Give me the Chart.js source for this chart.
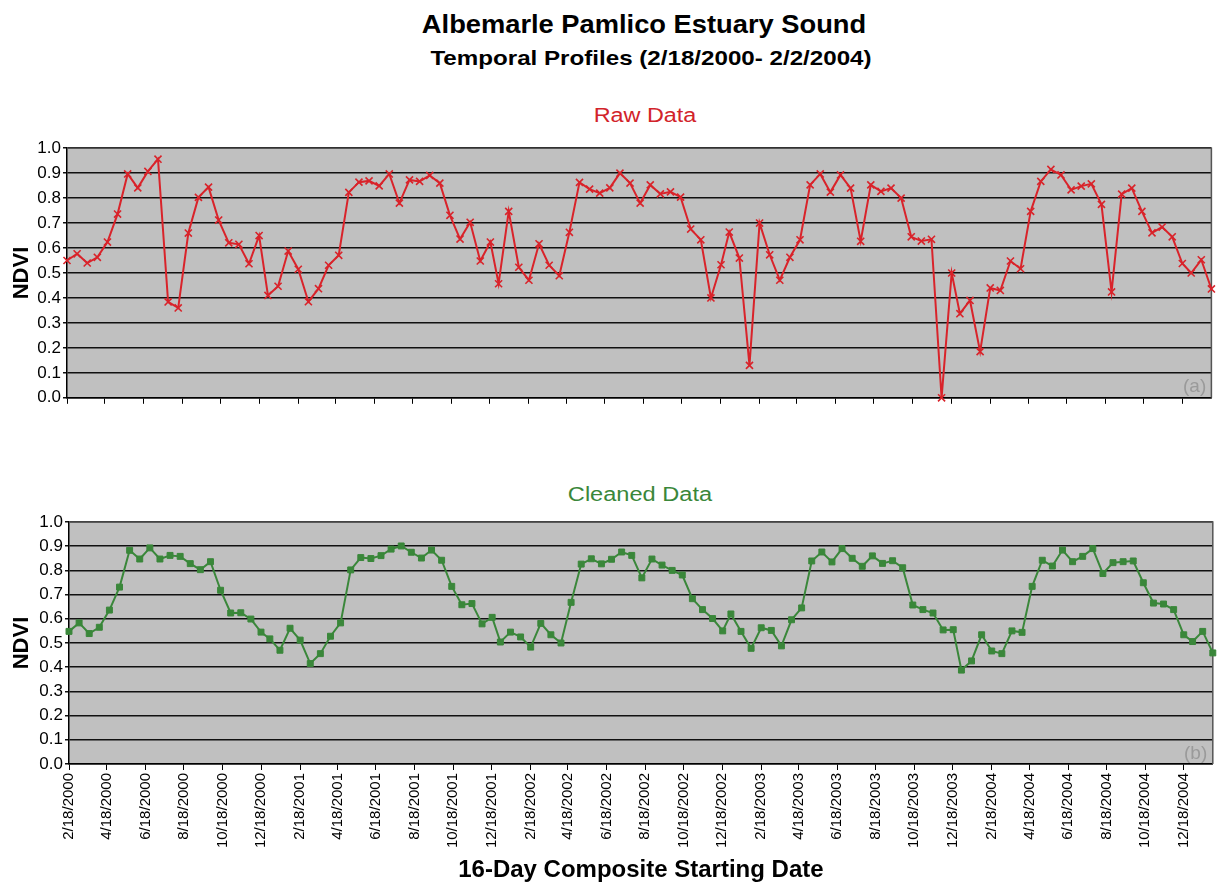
<!DOCTYPE html>
<html>
<head>
<meta charset="utf-8">
<script src="https://cdn.jsdelivr.net/npm/chart.js@4.4.1/dist/chart.umd.min.js"></script>
<style>
html,body{margin:0;padding:0;background:#fff;width:1218px;height:886px;overflow:hidden;font-family:'Liberation Sans',Arial,sans-serif;}
.t{position:absolute;white-space:nowrap;text-align:center;transform-origin:50% 50%;}
#title{left:0;width:1288px;top:9px;font-size:25.5px;line-height:30px;font-weight:bold;color:#000;transform:scaleX(1.07);}
#subtitle{left:0;width:1302px;top:46px;font-size:21px;line-height:24px;font-weight:bold;color:#000;transform:scaleX(1.15);}
#rawTitle{left:0;width:1290px;top:103px;font-size:20px;line-height:24px;color:#d2232a;transform:scaleX(1.17);}
#cleanTitle{left:0;width:1280px;top:482px;font-size:20px;line-height:24px;color:#3a873a;transform:scaleX(1.18);}
.tag{position:absolute;font-size:19px;line-height:22px;color:#9a9a9a;}
canvas{position:absolute;left:0;}
</style>
</head>
<body>
<div class="t" id="title">Albemarle Pamlico Estuary Sound</div>
<div class="t" id="subtitle">Temporal Profiles (2/18/2000- 2/2/2004)</div>
<div class="t" id="rawTitle">Raw Data</div>
<div class="t" id="cleanTitle">Cleaned Data</div>
<canvas id="rawChart" width="1218" height="274" style="top:136px"></canvas>
<canvas id="cleanChart" width="1218" height="378" style="top:508px"></canvas>
<div class="tag" style="left:1183px;top:375px">(a)</div>
<div class="tag" style="left:1184px;top:742px">(b)</div>
<script>
// 16-day composite start days (day of year) and the period covered
const compositeDOY = [1,17,33,49,65,81,97,113,129,145,161,177,193,209,225,241,257,273,289,305,321,337,353];
const firstYear = 2000, firstDOY = 49;
const lastYear = 2005, lastDOY = 33;

// Raw NDVI (panel a)
const rawNDVI = [
  0.550,0.577,0.540,0.563,0.624,0.736,0.897,0.841,0.907,0.956,
  0.384,0.360,0.660,0.803,0.844,0.712,0.621,0.615,0.537,0.650,
  0.410,0.447,0.588,0.515,0.385,0.437,0.531,0.571,0.823,0.864,
  0.869,0.849,0.897,0.780,0.873,0.867,0.891,0.860,0.731,0.636,
  0.703,0.548,0.624,0.457,0.747,0.523,0.471,0.617,0.531,0.489,
  0.663,0.863,0.836,0.820,0.841,0.900,0.860,0.780,0.853,0.817,
  0.825,0.804,0.676,0.633,0.400,0.533,0.664,0.560,0.130,0.700,
  0.573,0.471,0.563,0.633,0.853,0.897,0.824,0.893,0.840,0.627,
  0.853,0.827,0.840,0.800,0.645,0.628,0.635,0.000,0.500,0.337,
  0.390,0.185,0.440,0.430,0.548,0.517,0.747,0.867,0.915,0.893,
  0.833,0.848,0.857,0.775,0.424,0.816,0.840,0.747,0.661,0.684,
  0.645,0.538,0.500,0.553,0.436
];

// Cleaned NDVI (panel b)
const cleanedNDVI = [
  0.548,0.583,0.539,0.565,0.636,0.731,0.883,0.847,0.893,0.847,
  0.862,0.858,0.828,0.803,0.836,0.718,0.624,0.625,0.599,0.545,
  0.517,0.470,0.561,0.512,0.415,0.456,0.528,0.583,0.802,0.853,
  0.849,0.861,0.888,0.901,0.875,0.851,0.884,0.842,0.734,0.658,
  0.663,0.579,0.606,0.504,0.545,0.525,0.483,0.581,0.534,0.500,
  0.668,0.826,0.848,0.827,0.846,0.876,0.862,0.769,0.847,0.822,
  0.800,0.781,0.683,0.638,0.601,0.550,0.620,0.548,0.478,0.563,
  0.552,0.488,0.596,0.645,0.839,0.876,0.835,0.890,0.850,0.817,
  0.860,0.829,0.840,0.811,0.657,0.638,0.624,0.554,0.555,0.388,
  0.426,0.534,0.467,0.456,0.550,0.544,0.734,0.842,0.818,0.884,
  0.836,0.858,0.890,0.787,0.832,0.836,0.839,0.749,0.665,0.661,
  0.638,0.534,0.506,0.548,0.459
];

// Date-axis tick labels
const dateTickLabels = [
  "2/18/2000","4/18/2000","6/18/2000","8/18/2000","10/18/2000","12/18/2000",
  "2/18/2001","4/18/2001","6/18/2001","8/18/2001","10/18/2001","12/18/2001",
  "2/18/2002","4/18/2002","6/18/2002","8/18/2002","10/18/2002","12/18/2002",
  "2/18/2003","4/18/2003","6/18/2003","8/18/2003","10/18/2003","12/18/2003",
  "2/18/2004","4/18/2004","6/18/2004","8/18/2004","10/18/2004","12/18/2004"
];

const DAY = 86400000;
const origin = Date.UTC(firstYear, 0, firstDOY);
const compositeDays = [];
for (let y = firstYear; y <= lastYear; y++) {
  for (const d of compositeDOY) {
    if (y === firstYear && d < firstDOY) continue;
    if (y === lastYear && d > lastDOY) continue;
    compositeDays.push((Date.UTC(y, 0, d) - origin) / DAY);
  }
}
const tickDays = dateTickLabels.map(s => {
  const [m, d, y] = s.split('/').map(Number);
  return (Date.UTC(y, m - 1, d) - origin) / DAY;
});
const xMax = (Date.UTC(lastYear, 0, lastDOY) - origin) / DAY;

const FONT = "'Liberation Sans', Arial, sans-serif";

const plotBg = {
  id: 'plotBg',
  beforeDraw(chart) {
    const {ctx, chartArea: a} = chart;
    ctx.save();
    ctx.fillStyle = '#c0c0c0';
    ctx.fillRect(a.left, a.top, a.right - a.left, a.bottom - a.top);
    ctx.restore();
  },
  beforeDatasetsDraw(chart) {
    const {ctx, chartArea: a} = chart;
    ctx.save();
    ctx.strokeStyle = '#555';
    ctx.lineWidth = 1.5;
    ctx.beginPath();
    ctx.moveTo(a.left, a.top);
    ctx.lineTo(a.right, a.top);
    ctx.lineTo(a.right, a.bottom);
    ctx.stroke();
    ctx.restore();
  }
};

function makeChart(id, values, color, pointStyle, pointRadius, cfg) {
  return new Chart(document.getElementById(id), {
    type: 'line',
    data: {
      datasets: [{
        data: compositeDays.map((x, i) => ({x, y: values[i]})),
        borderColor: color,
        backgroundColor: color,
        borderWidth: 2,
        pointStyle: pointStyle,
        pointRadius: pointRadius,
        pointBorderWidth: cfg.pointBorderWidth,
        pointBorderColor: color,
        pointBackgroundColor: color,
        tension: 0,
        clip: false
      }]
    },
    options: {
      responsive: false,
      animation: false,
      devicePixelRatio: 1,
      events: [],
      layout: {padding: cfg.padding},
      plugins: {legend: {display: false}, tooltip: {enabled: false}, title: {display: false}},
      scales: {
        x: {
          type: 'linear',
          min: 0,
          max: xMax,
          afterBuildTicks: s => { s.ticks = tickDays.map(v => ({value: v})); },
          afterFit: s => { s.height = cfg.xHeight; },
          ticks: {
            display: cfg.xLabels,
            autoSkip: false,
            minRotation: 90,
            maxRotation: 90,
            padding: 3,
            color: '#000',
            font: {family: FONT, size: 15},
            callback: (v, i) => dateTickLabels[i]
          },
          grid: {drawOnChartArea: false, drawTicks: true, tickLength: 6, color: '#000', lineWidth: 1},
          border: {color: '#000', width: 1.5},
          title: {
            display: cfg.xLabels,
            text: '16-Day Composite Starting Date',
            color: '#000',
            font: {family: FONT, size: 24, weight: 'bold'},
            padding: {top: 0, bottom: 1}
          }
        },
        y: {
          min: 0,
          max: 1,
          afterFit: s => { s.width = cfg.yWidth; },
          ticks: {
            stepSize: 0.1,
            padding: 2,
            color: '#000',
            font: {family: FONT, size: 17},
            callback: v => Number(v).toFixed(1)
          },
          grid: {color: '#111', lineWidth: 1.5, tickLength: 4},
          border: {color: '#000', width: 1.5},
          title: {
            display: true,
            text: 'NDVI',
            color: '#000',
            font: {family: FONT, size: 22, weight: 'bold'},
            padding: {top: 9, bottom: 0}
          }
        }
      }
    },
    plugins: [plotBg]
  });
}

makeChart('rawChart', rawNDVI, '#d9232a', 'crossRot', 5, {
  padding: {top: 12, right: 5, left: 0, bottom: 0},
  xHeight: 12, yWidth: 67, xLabels: false, pointBorderWidth: 1.6
});
makeChart('cleanChart', cleanedNDVI, '#3a873a', 'rect', 4.2, {
  padding: {top: 14, right: 2, left: 0, bottom: 0},
  xHeight: 122, yWidth: 69, xLabels: true, pointBorderWidth: 1
});
</script>
</body>
</html>
